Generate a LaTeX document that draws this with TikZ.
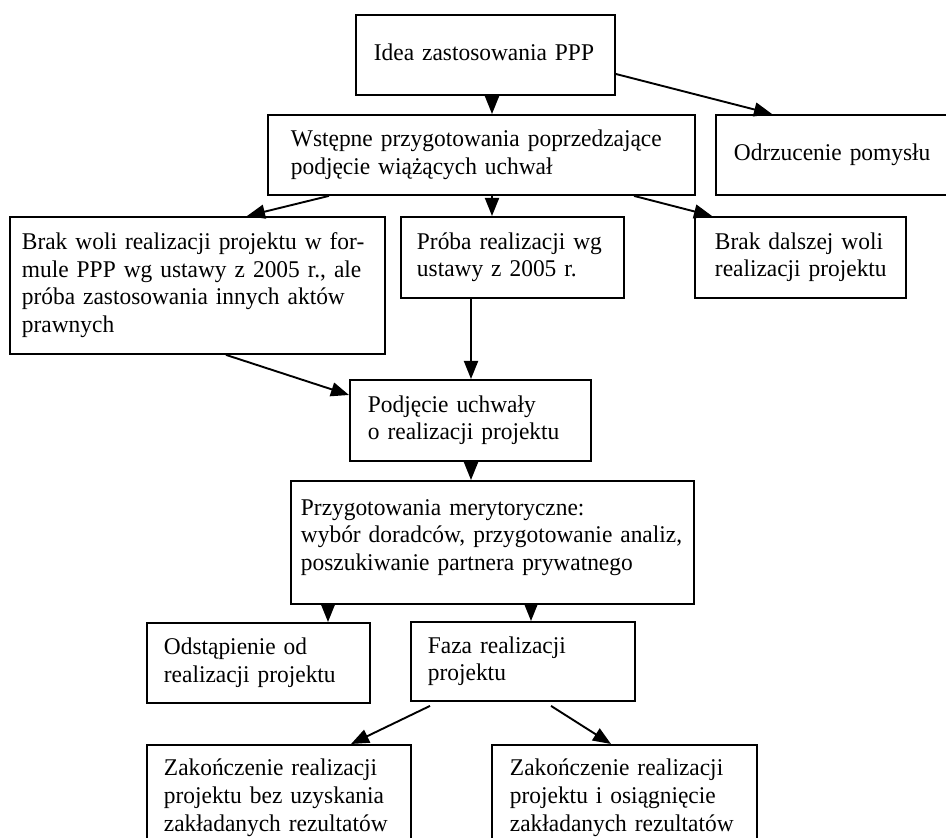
\documentclass[tikz,border=0pt]{standalone}
\usepackage{fontspec}
\setmainfont{Liberation Serif}[FakeStretch=0.975]
\usetikzlibrary{arrows.meta,positioning,calc}

\newcommand{\boxlines}[1]{\noindent\begin{tabular}[t]{@{}l@{}}#1\end{tabular}}

\tikzset{
  box/.style={draw, rectangle, line width=0.95pt, align=left, anchor=north west,
              inner ysep=0pt, font=\fontsize{12pt}{13.8pt}\selectfont},
  arr/.style={-{Triangle[length=9pt,width=7pt]}, line width=0.95pt}
}

\begin{document}
\begin{tikzpicture}[x=0.5pt,y=-0.5pt]
\clip (0,0) rectangle (946,838);

% Top
\node[box, inner xsep=9pt, text width=111.5pt, minimum height=40pt] (idea) at (355,14) {\boxlines{Idea zastosowania PPP}};

% Second row
\node[box, inner xsep=11.5pt, text width=190.5pt, minimum height=40pt] (wstepne) at (267,114) {\boxlines{Wstępne przygotowania poprzedzające\\podjęcie wiążących uchwał}};
\node[box, inner xsep=9pt, text width=102pt, minimum height=40pt] (odrzucenie) at (715,114) {\boxlines{Odrzucenie pomysłu}};

% Third row
\node[box, inner xsep=6pt, text width=175.5pt, minimum height=68.5pt] (brakwoli) at (9,216) {\boxlines{Brak woli realizacji projektu w for-\\mule PPP wg ustawy z 2005 r., ale\\próba zastosowania innych aktów\\prawnych}};
\node[box, inner xsep=8pt, text width=95.5pt, minimum height=40.5pt] (proba) at (400,216) {\boxlines{Próba realizacji wg\\ustawy z 2005 r.}};
\node[box, inner xsep=10pt, text width=85.5pt, minimum height=40.5pt] (brakdalszej) at (694,216) {\boxlines{Brak dalszej woli\\realizacji projektu}};

% Uchwala
\node[box, inner xsep=9pt, text width=102.5pt, minimum height=40.5pt] (podjecie) at (349,379) {\boxlines{Podjęcie uchwały\\o realizacji projektu}};
\node[box, inner xsep=5pt, text width=191.5pt, minimum height=61.5pt] (przyg) at (290,480) {\boxlines{Przygotowania merytoryczne:\\wybór doradców, przygotowanie analiz,\\poszukiwanie partnera prywatnego\\[5pt]}};

% Decision
\node[box, inner xsep=8.5pt, text width=94.5pt, minimum height=40pt] (odstap) at (146,622) {\boxlines{Odstąpienie od\\realizacji projektu}};
\node[box, inner xsep=8.5pt, text width=95pt, minimum height=39.5pt] (faza) at (410,621) {\boxlines{Faza realizacji\\projektu}};

% Results
\node[box, inner xsep=8.5pt, text width=115pt, minimum height=53pt] (zakbez) at (146,744) {\boxlines{Zakończenie realizacji\\projektu bez uzyskania\\zakładanych rezultatów}};
\node[box, inner xsep=9pt, text width=114.5pt, minimum height=53pt] (zakosi) at (491,744) {\boxlines{Zakończenie realizacji\\projektu i osiągnięcie\\zakładanych rezultatów}};

% Arrows
\draw[arr] ($(idea.south west)+(137,0)$) -- ($(wstepne.north west)+(225,0)$);
\draw[arr] ($(idea.north east)+(0,60)$) -- ($(odrzucenie.north west)+(57,0)$);
\draw[arr] ($(wstepne.south west)+(62,0)$) -- ($(brakwoli.north west)+(238,0)$);
\draw[arr] ($(wstepne.south west)+(225,0)$) -- ($(proba.north west)+(92,0)$);
\draw[arr] ($(wstepne.south west)+(367,0)$) -- ($(brakdalszej.north west)+(18,0)$);
\draw[arr] ($(proba.south west)+(71,0)$) -- ($(podjecie.north west)+(122,0)$);
\draw[arr] ($(brakwoli.south west)+(217,0)$) -- ($(podjecie.north west)+(0,16)$);
\draw[arr] ($(podjecie.south west)+(122,0)$) -- ($(przyg.north west)+(181,0)$);
\draw[arr] ($(przyg.south west)+(38,0)$) -- ($(odstap.north west)+(182,0)$);
\draw[arr] ($(przyg.south west)+(241,0)$) -- ($(faza.north west)+(121,0)$);
\draw[arr] ($(faza.south west)+(20,4)$) -- ($(zakbez.north west)+(205,0)$);
\draw[arr] ($(faza.south west)+(141,4)$) -- ($(zakosi.north west)+(120,0)$);
\end{tikzpicture}
\end{document}
